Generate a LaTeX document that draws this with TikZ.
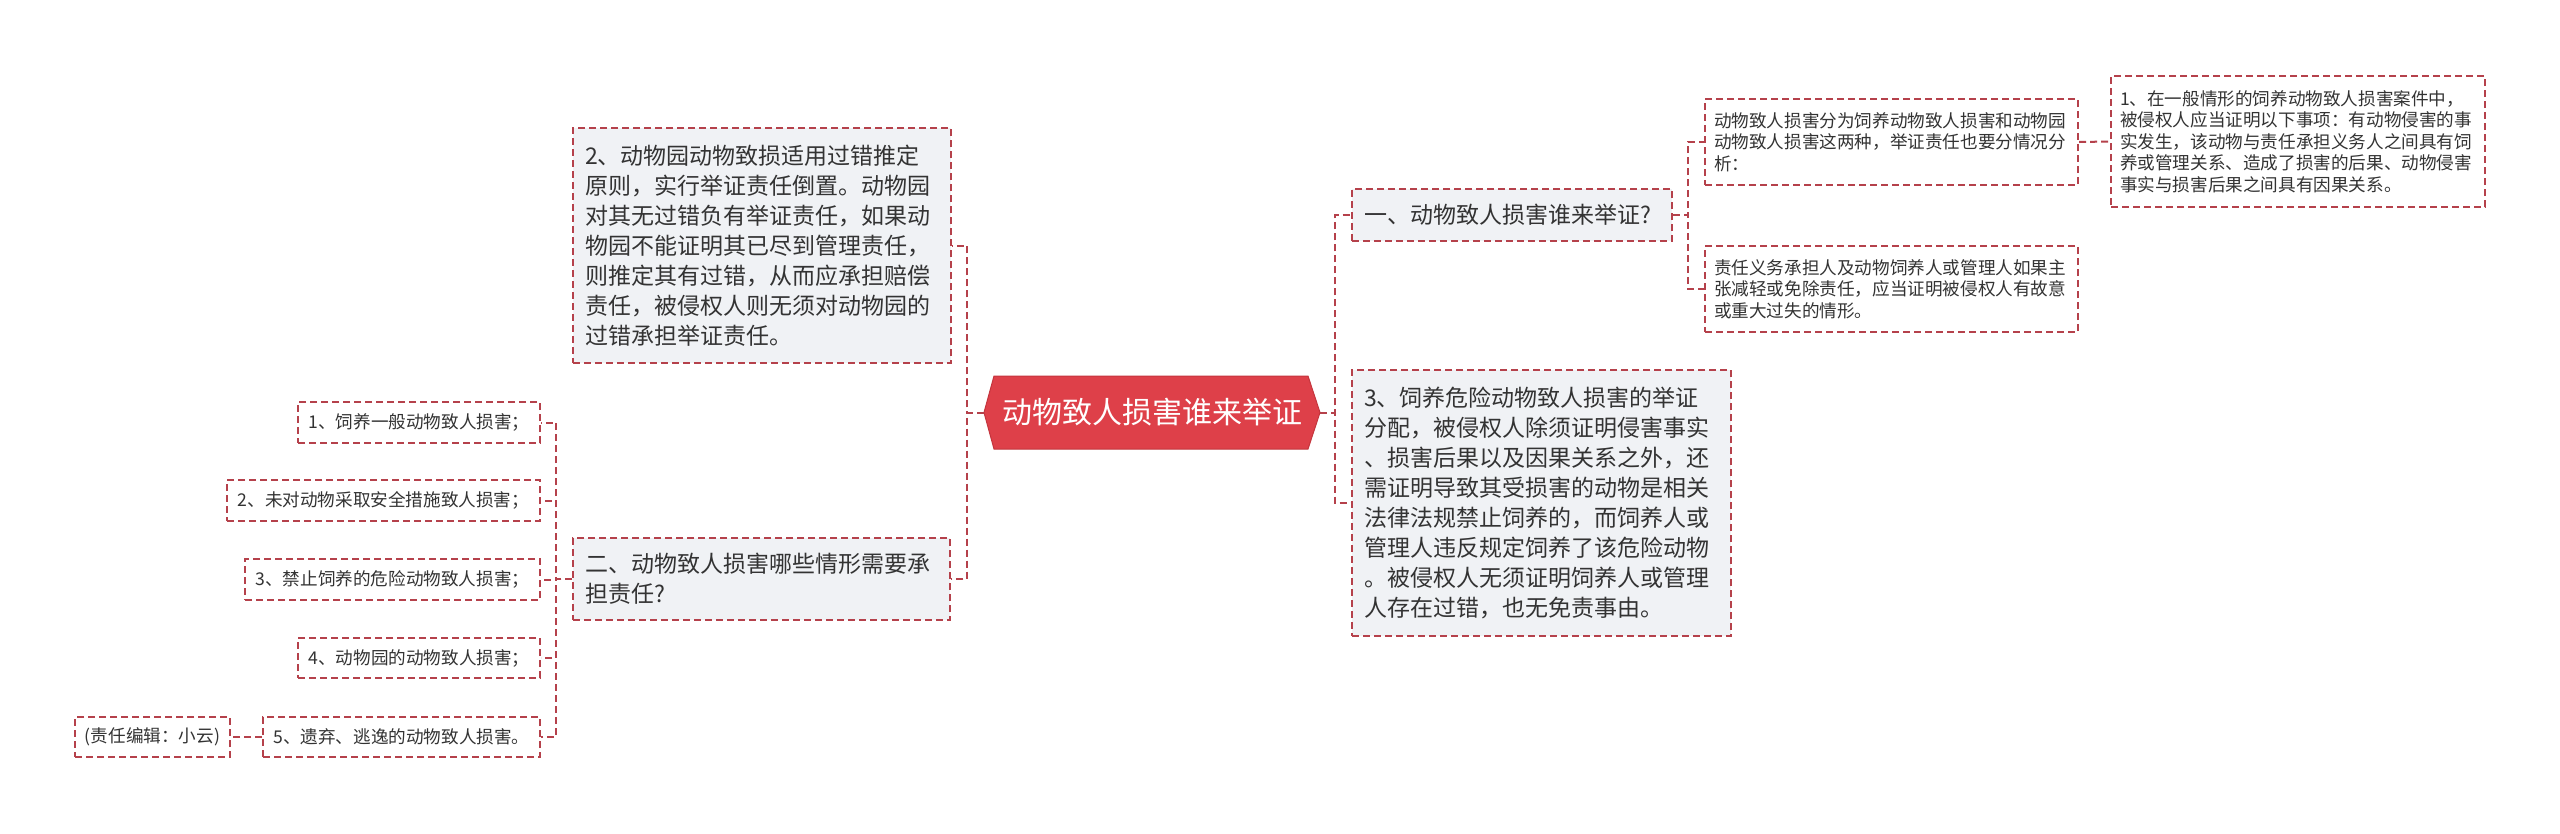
\documentclass[tikz,border=0pt]{standalone}
\usepackage{fontspec}
\setmainfont{Noto Sans CJK SC}
\definecolor{bord}{HTML}{B5414B}
\definecolor{boxg}{HTML}{F0F2F5}
\definecolor{txt}{HTML}{333333}
\definecolor{hexfill}{HTML}{DE4049}
\definecolor{hexdraw}{HTML}{C4353D}
\begin{document}
\begin{tikzpicture}[x=1pt,y=-1pt,
  box/.style={draw=bord, line width=2pt, dash pattern=on 7pt off 4pt, text=txt},
  big/.style={box, fill=boxg, font=\fontsize{23}{30}\selectfont, align=left, inner xsep=12pt, inner ysep=0pt},
  small/.style={box, fill=white, font=\fontsize{17.6}{21.5}\selectfont, align=left, inner xsep=9pt, inner ysep=0pt},
  leaf/.style={box, fill=white, font=\fontsize{17.6}{21.5}\selectfont, align=center, inner sep=0pt},
  conn/.style={draw=bord, line width=2pt, dash pattern=on 7pt off 4pt}]
\fill[white] (0,0) rectangle (2560,833);
\useasboundingbox (0,0) rectangle (2560,833);

% centre
\filldraw[fill=hexfill, draw=hexdraw, line width=1pt] (984,412.5) -- (994,376) -- (1308,376) -- (1320,412.5) -- (1308,449) -- (994,449) -- cycle;
\node[minimum width=336pt, minimum height=73pt, inner sep=0pt, text=white, font=\fontsize{30}{36}\selectfont] (c) at (1152,412.5) {动物致人损害谁来举证};

% left side
\node[big, text width=354pt, minimum height=235pt] (zoo) at (762,245.5) {2、动物园动物致损适用过错推定\\原则，实行举证责任倒置。动物园\\对其无过错负有举证责任，如果动\\物园不能证明其已尽到管理责任，\\则推定其有过错，从而应承担赔偿\\责任，被侵权人则无须对动物园的\\过错承担举证责任。};
\node[big, text width=353pt, minimum height=82pt] (er) at (761.5,579) {二、动物致人损害哪些情形需要承\\担责任?};

\node[leaf, minimum width=242pt, minimum height=41pt] (L1) at (419,422.5) {1、饲养一般动物致人损害；};
\node[leaf, minimum width=313pt, minimum height=41pt] (L2) at (383.5,500.5) {2、未对动物采取安全措施致人损害；};
\node[leaf, minimum width=295pt, minimum height=41pt] (L3) at (392.5,579.5) {3、禁止饲养的危险动物致人损害；};
\node[leaf, minimum width=242pt, minimum height=40pt] (L4) at (419,658) {4、动物园的动物致人损害；};
\node[leaf, minimum width=277pt, minimum height=40pt] (L5) at (401.5,737) {5、遗弃、逃逸的动物致人损害。};
\node[leaf, minimum width=155pt, minimum height=40pt] (ed) at (152.5,737) {(责任编辑：小云)};

% right side
\node[big, text width=296pt, minimum height=52pt] (yi) at (1512,215) {一、动物致人损害谁来举证?};
\node[big, text width=355pt, minimum height=266pt] (three) at (1541.5,503) {3、饲养危险动物致人损害的举证\\分配，被侵权人除须证明侵害事实\\、损害后果以及因果关系之外，还\\需证明导致其受损害的动物是相关\\法律法规禁止饲养的，而饲养人或\\管理人违反规定饲养了该危险动物\\。被侵权人无须证明饲养人或管理\\人存在过错，也无免责事由。};
\node[small, text width=355pt, minimum height=86pt] (A) at (1891.5,142) {动物致人损害分为饲养动物致人损害和动物园\\动物致人损害这两种，举证责任也要分情况分\\析：};
\node[small, text width=355pt, minimum height=86pt] (B) at (1891.5,289) {责任义务承担人及动物饲养人或管理人如果主\\张减轻或免除责任，应当证明被侵权人有故意\\或重大过失的情形。};
\node[small, text width=356pt, minimum height=131pt] (A1) at (2298,141.5) {1、在一般情形的饲养动物致人损害案件中，\\被侵权人应当证明以下事项：有动物侵害的事\\实发生，该动物与责任承担义务人之间具有饲\\养或管理关系、造成了损害的后果、动物侵害\\事实与损害后果之间具有因果关系。};

% trunks
\coordinate (lt) at (967,412.5);
\coordinate (lt2) at (556,579);
\coordinate (rt) at (1335,412.5);
\coordinate (yt) at (1688,215);

\draw[conn] (c.west) -- (lt) |- (zoo.east);
\draw[conn] (c.west) -- (lt) |- (er.east);
\draw[conn] (er.west) -- (lt2) |- (L1.east);
\draw[conn] (er.west) -- (lt2) |- (L2.east);
\draw[conn] (er.west) -- (lt2) |- (L3.east);
\draw[conn] (er.west) -- (lt2) |- (L4.east);
\draw[conn] (er.west) -- (lt2) |- (L5.east);
\draw[conn] (L5.west) -- (ed.east);
\draw[conn] (c.east) -- (rt) |- (yi.west);
\draw[conn] (c.east) -- (rt) |- (three.west);
\draw[conn] (yi.east) -- (yt) |- (A.west);
\draw[conn] (yi.east) -- (yt) |- (B.west);
\draw[conn] (A.east) -- (A1.west);
\end{tikzpicture}
\end{document}
